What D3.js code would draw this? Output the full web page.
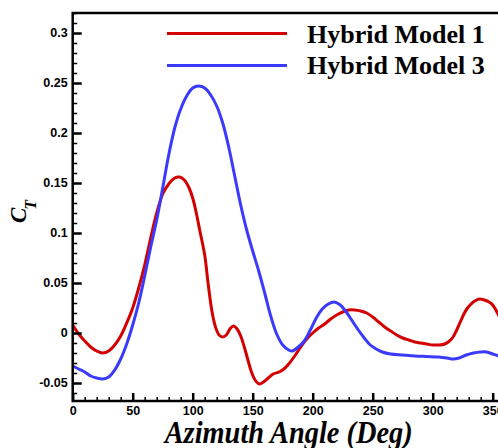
<!DOCTYPE html>
<html>
<head>
<meta charset="utf-8">
<script src="https://cdn.jsdelivr.net/npm/d3@7"></script>
<style>
  html, body { margin: 0; padding: 0; background: #fff; }
  svg { display: block; }
</style>
</head>
<body>
<svg id="chart" width="498" height="448"></svg>
<script>
// ---- data ----
const seriesNames = ["Hybrid Model 1", "Hybrid Model 3"];
const seriesColors = ["#d40000", "#3a3aff"];

const model1Angle = [0, 5, 10, 15, 20, 25, 30, 35, 40, 45, 50, 55, 60, 65, 70, 75, 80, 85, 89, 93, 97, 100, 103, 106, 110, 113, 116, 119, 122, 125, 128, 131, 134, 137, 140, 143, 146, 149, 152, 155.5, 159, 163, 167, 172, 176, 180, 185, 190, 195, 200, 205, 210, 215, 220, 225, 230, 235, 240, 245, 250, 255, 260, 265, 270, 275, 280, 285, 290, 295, 300, 305, 310, 314, 317, 320, 323, 326, 329, 332, 335, 339, 343, 347, 350, 354, 357, 360];
const model1CT = [0.008, -0.001, -0.008, -0.014, -0.018, -0.020, -0.018, -0.012, -0.003, 0.010, 0.025, 0.045, 0.068, 0.095, 0.120, 0.139, 0.149, 0.155, 0.156, 0.153, 0.145, 0.135, 0.120, 0.102, 0.078, 0.048, 0.022, 0.006, -0.002, -0.004, -0.002, 0.004, 0.007, 0.004, -0.003, -0.014, -0.027, -0.039, -0.047, -0.051, -0.049, -0.045, -0.041, -0.039, -0.036, -0.031, -0.023, -0.014, -0.006, 0.000, 0.005, 0.009, 0.014, 0.018, 0.021, 0.023, 0.023, 0.022, 0.020, 0.016, 0.011, 0.006, 0.002, -0.002, -0.005, -0.007, -0.009, -0.010, -0.011, -0.012, -0.012, -0.011, -0.008, -0.004, 0.003, 0.011, 0.019, 0.025, 0.029, 0.032, 0.034, 0.033, 0.031, 0.028, 0.020, 0.013, 0.008];

const model3Angle = [0, 5, 10, 15, 20, 25, 30, 35, 40, 45, 50, 55, 60, 65, 70, 75, 80, 85, 90, 95, 100, 105, 110, 115, 120, 125, 130, 135, 140, 145, 150, 155, 160, 165, 170, 175, 180, 183, 188, 193, 198, 203, 208, 213, 218, 223, 228, 233, 238, 243, 248, 253, 258, 265, 275, 285, 295, 305, 312, 317, 322, 328, 334, 340, 345, 350, 355, 360];
const model3CT = [-0.033, -0.036, -0.039, -0.043, -0.045, -0.046, -0.044, -0.037, -0.026, -0.011, 0.008, 0.030, 0.057, 0.086, 0.113, 0.145, 0.178, 0.205, 0.224, 0.237, 0.245, 0.247, 0.245, 0.238, 0.227, 0.210, 0.186, 0.157, 0.128, 0.103, 0.082, 0.062, 0.040, 0.017, -0.001, -0.012, -0.017, -0.018, -0.014, -0.008, 0.003, 0.015, 0.024, 0.029, 0.031, 0.028, 0.021, 0.012, 0.003, -0.005, -0.012, -0.016, -0.019, -0.021, -0.022, -0.023, -0.0235, -0.024, -0.025, -0.026, -0.025, -0.022, -0.020, -0.019, -0.019, -0.021, -0.023, -0.028];

const xMajorTicks = [0, 50, 100, 150, 200, 250, 300, 350];
const xTickLabels = ["0", "50", "100", "150", "200", "250", "300", "350"];
const yMajorTicks = [-0.05, 0, 0.05, 0.1, 0.15, 0.2, 0.25, 0.3];
const yTickLabels = ["-0.05", "0", "0.05", "0.1", "0.15", "0.2", "0.25", "0.3"];
const xTitle = "Azimuth Angle (Deg)";
const yTitleMain = "C";
const yTitleSub = "T";

// ---- layout ----
const svg = d3.select("#chart");
const m = { left: 72.7, top: 13 };
const plotW = 432, plotH = 388;

const x = d3.scaleLinear().domain([0, 360]).range([m.left, m.left + plotW]);
const y = d3.scaleLinear().domain([-0.068, 0.32]).range([m.top + plotH, m.top]);

const xMinor = d3.range(0, 361, 10).filter(v => !xMajorTicks.includes(v));
const yMinor = d3.range(-6, 33).map(i => +(i * 0.01).toFixed(2)).filter(v => !yMajorTicks.some(t => Math.abs(t - v) < 1e-9));

const tickFont = "'Liberation Sans', Arial, Helvetica, sans-serif";
const serif = "'Liberation Serif', 'Times New Roman', Times, serif";

// curves
const line = d3.line()
  .x(d => x(d[0]))
  .y(d => y(d[1]))
  .curve(d3.curveCatmullRom.alpha(0.5));

const data1 = model1Angle.map((a, i) => [a, model1CT[i]]);
const data3 = model3Angle.map((a, i) => [a, model3CT[i]]);

svg.append("path").datum(data1).attr("d", line)
  .attr("fill", "none").attr("stroke", seriesColors[0]).attr("stroke-width", 3)
  .attr("stroke-linejoin", "round");
svg.append("path").datum(data3).attr("d", line)
  .attr("fill", "none").attr("stroke", seriesColors[1]).attr("stroke-width", 3)
  .attr("stroke-linejoin", "round");

// axes (inward ticks)
const gyMinor = svg.append("g").attr("transform", `translate(${m.left},0)`)
  .call(d3.axisLeft(y).tickValues(yMinor).tickSize(-4.5).tickSizeOuter(0).tickFormat(""));
const gy = svg.append("g").attr("transform", `translate(${m.left},0)`)
  .call(d3.axisLeft(y).tickValues(yMajorTicks).tickSize(-9).tickSizeOuter(0).tickPadding(5)
    .tickFormat((d, i) => yTickLabels[i]));
const gxMinor = svg.append("g").attr("transform", `translate(0,${m.top + plotH})`)
  .call(d3.axisBottom(x).tickValues(xMinor).tickSize(-4).tickSizeOuter(0).tickFormat(""));
const gx = svg.append("g").attr("transform", `translate(0,${m.top + plotH})`)
  .call(d3.axisBottom(x).tickValues(xMajorTicks).tickSize(-8).tickSizeOuter(0).tickPadding(5)
    .tickFormat((d, i) => xTickLabels[i]));

[gyMinor, gy, gxMinor, gx].forEach(g => {
  g.select(".domain").remove();
  g.selectAll(".tick line").attr("stroke", "#000").attr("stroke-width", 1.5);
});
[gyMinor, gxMinor].forEach(g => g.selectAll(".tick text").remove());
[gy, gx].forEach(g => {
  g.selectAll(".tick line").attr("stroke-width", 2.5);
  g.selectAll(".tick text")
    .attr("fill", "#000")
    .style("font-family", tickFont)
    .style("font-weight", "bold")
    .style("font-size", "12.5px");
});
gy.selectAll(".tick text").attr("dy", "0.3em");
gx.selectAll(".tick text").attr("dy", "0.72em");

// frame
svg.append("rect")
  .attr("x", x(0)).attr("y", y(0.32))
  .attr("width", x(360) - x(0)).attr("height", y(-0.068) - y(0.32))
  .attr("fill", "none").attr("stroke", "#000").attr("stroke-width", 2.5);

// axis titles
svg.append("text")
  .attr("x", (x(0) + x(360)) / 2).attr("y", 443)
  .attr("text-anchor", "middle")
  .attr("textLength", 248).attr("lengthAdjust", "spacingAndGlyphs")
  .style("font-family", serif).style("font-weight", "bold").style("font-style", "italic")
  .style("font-size", "31px").attr("fill", "#000")
  .text(xTitle);

const yt = svg.append("text")
  .attr("transform", `translate(26,223) rotate(-90)`)
  .style("font-family", serif).style("font-weight", "bold").style("font-style", "italic")
  .attr("fill", "#000");
yt.append("tspan").style("font-size", "23px").text(yTitleMain);
yt.append("tspan").attr("dy", 10).attr("dx", -2).style("font-size", "16px").text(yTitleSub);

// legend
const legX1 = 167, legX2 = 287;
const legY = [33.5, 65.5];
const legBase = [42.7, 74];
seriesNames.forEach((name, i) => {
  svg.append("line")
    .attr("x1", legX1).attr("x2", legX2).attr("y1", legY[i]).attr("y2", legY[i])
    .attr("stroke", seriesColors[i]).attr("stroke-width", 3);
  svg.append("text")
    .attr("x", 307).attr("y", legBase[i])
    .style("font-family", serif).style("font-weight", "bold").style("font-size", "26px")
    .attr("fill", "#000")
    .text(name);
});
</script>
</body>
</html>
